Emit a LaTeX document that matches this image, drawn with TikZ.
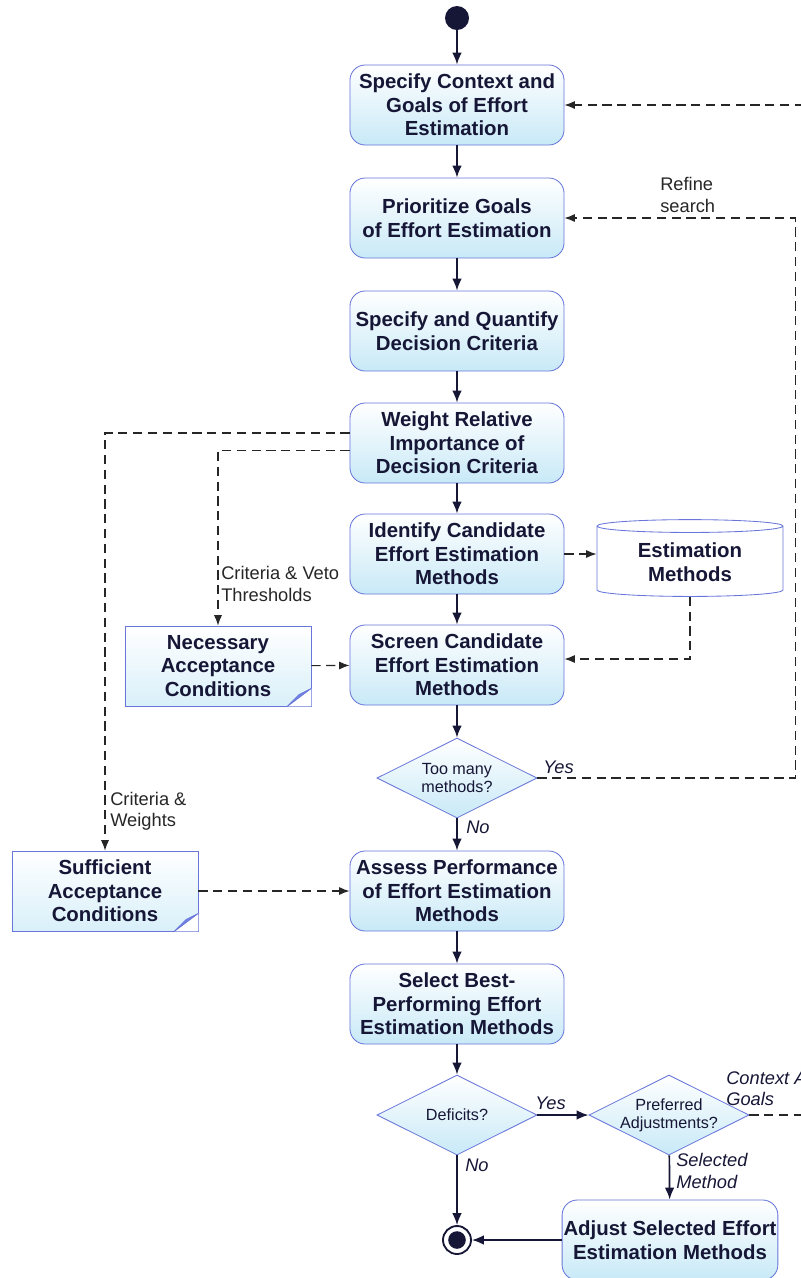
\documentclass[tikz,border=0pt]{standalone}
\usepackage{fontspec}
\setmainfont{Liberation Sans}
\usetikzlibrary{shapes.geometric,arrows.meta}
\definecolor{actfill}{RGB}{200,233,247}
\definecolor{actline}{RGB}{104,118,218}
\definecolor{ink}{RGB}{22,22,54}
\definecolor{foldblue}{RGB}{112,132,228}
\tikzset{
  act/.style={rectangle, rounded corners=0.38cm, draw=actline, line width=0.6pt,
    top color=white, bottom color=actfill, text=ink, align=center,
    font=\bfseries\fontsize{14.5}{16.7}\selectfont,
    minimum width=5.35cm, minimum height=2cm, inner sep=1pt},
  decide/.style={diamond, aspect=2, draw=actline, line width=0.6pt,
    top color=white, bottom color=actfill, minimum width=4cm, minimum height=2cm,
    inner sep=0pt},
  dtext/.style={text=ink, align=center, inner sep=0pt,
    font=\fontsize{11.5}{13}\selectfont},
  docbox/.style={rectangle, draw=actline, line width=0.5pt,
    top color=white, bottom color=actfill!70, text=ink, align=center,
    font=\bfseries\fontsize{14.5}{16.7}\selectfont,
    minimum width=4.65cm, minimum height=2cm, inner sep=1pt},
  store/.style={cylinder, shape border rotate=90, aspect=0.12, draw=actline,
    line width=0.6pt, fill=white, text=ink, align=center,
    font=\bfseries\fontsize{14.5}{16.7}\selectfont,
    minimum width=4.65cm, minimum height=1.92cm, inner sep=1pt},
  startdot/.style={circle, fill=ink, minimum size=0.6cm, inner sep=0pt},
  enddot/.style={circle, draw=ink, line width=1.3pt, fill=white,
    minimum size=0.7cm, inner sep=0pt,
    path picture={\fill[ink] (path picture bounding box.center) circle (0.22cm);}},
  flow/.style={draw=ink, line width=1.2pt, -{Latex[length=3mm,width=2.4mm]}},
  feed/.style={draw=black!85, line width=0.8pt, dash pattern=on 0.23cm off 0.14cm,
    -{Latex[length=2.6mm,width=2mm]}},
  note/.style={anchor=west, align=left, inner sep=0pt, text=black!85,
    font=\fontsize{13}{15}\selectfont},
  guard/.style={anchor=west, align=left, inner sep=0pt, text=ink,
    font=\itshape\fontsize{13}{15}\selectfont}
}
\begin{document}
\begin{tikzpicture}[x=0.025cm, y=-0.025cm]
  \useasboundingbox (0,0) rectangle (801,1278);
  \draw
    (457,18) node[startdot] (start) {}
    (457,105) node[act] (ctx) {Specify Context and\\Goals of Effort\\Estimation}
    (457,218) node[act] (prio) {Prioritize Goals\\of Effort Estimation}
    (457,331) node[act] (crit) {Specify and Quantify\\Decision Criteria}
    (457,443) node[act] (weight) {Weight Relative\\Importance of\\Decision Criteria}
    (457,554) node[act] (ident) {Identify Candidate\\Effort Estimation\\Methods}
    (457,665) node[act] (screen) {Screen Candidate\\Effort Estimation\\Methods}
    (457,778) node[decide, label={[dtext]center:Too many\\methods?}] (toomany) {}
    (457,891) node[act] (assess) {Assess Performance\\of Effort Estimation\\Methods}
    (457,1004) node[act] (select) {Select Best-\\Performing Effort\\Estimation Methods}
    (457,1115) node[decide, label={[dtext]center:Deficits?}] (deficit) {}
    (669,1115) node[decide, label={[dtext]center:Preferred\\Adjustments?}] (pref) {}
    (670,1240) node[act] (adjust) {Adjust Selected Effort\\Estimation Methods}
    (457,1240) node[enddot] (stop) {}
    (690,562) node[store] (methods) {Estimation\\Methods}
    (218,666) node[docbox] (necess) {Necessary\\Acceptance\\Conditions}
    (105,891) node[docbox] (suffic) {Sufficient\\Acceptance\\Conditions};
  % folded corners of the two documents
  \fill[white] ([xshift=-0.6cm]necess.south east) -- (necess.south east) -- ([yshift=0.45cm]necess.south east) -- cycle;
  \draw[actline, line width=0.5pt, fill=foldblue] ([xshift=-0.6cm]necess.south east) -- ([yshift=0.45cm]necess.south east) -- ([xshift=-0.3cm,yshift=0.3cm]necess.south east) -- cycle;
  \fill[white] ([xshift=-0.6cm]suffic.south east) -- (suffic.south east) -- ([yshift=0.45cm]suffic.south east) -- cycle;
  \draw[actline, line width=0.5pt, fill=foldblue] ([xshift=-0.6cm]suffic.south east) -- ([yshift=0.45cm]suffic.south east) -- ([xshift=-0.3cm,yshift=0.3cm]suffic.south east) -- cycle;
  \begin{scope}[flow]
    \draw (start) to (ctx);
    \draw (ctx) to (prio);
    \draw (prio) to (crit);
    \draw (crit) to (weight);
    \draw (weight) to (ident);
    \draw (ident) to (screen);
    \draw (screen) to (toomany);
    \draw (toomany) to (assess);
    \draw (assess) to (select);
    \draw (select) to (deficit);
    \draw (deficit) to (stop);
    \draw (deficit) to (pref);
    \draw (pref) to (adjust);
    \draw (adjust) to (stop);
  \end{scope}
  \begin{scope}[feed]
    \draw ([yshift=0.25cm]weight.west) -| (suffic.north);
    \draw ([yshift=-0.18cm]weight.west) -| (necess.north);
    \draw (necess) to (screen);
    \draw (suffic) to (assess);
    \draw (ident.east) to (ident.east -| methods.west);
    \draw (methods.south) |- ([yshift=0.15cm]screen.east);
    \draw (toomany.east) -- ++(258,0) |- (prio.east);
    \draw (pref.east) -- ++(70,0) |- (ctx.east);
  \end{scope}
  \node[note] at (660,195) {Refine\\search};
  \node[note] at (221,584) {Criteria \& Veto\\Thresholds};
  \node[note] at (110,811) {Criteria \&\\Weights};
  \node[guard] at (543,767) {Yes};
  \node[guard] at (466,827) {No};
  \node[guard] at (535,1103) {Yes};
  \node[guard] at (465,1165) {No};
  \node[guard] at (676,1171) {Selected\\Method};
  \node[guard] at (726,1088) {Context And\\Goals};
\end{tikzpicture}
\end{document}
